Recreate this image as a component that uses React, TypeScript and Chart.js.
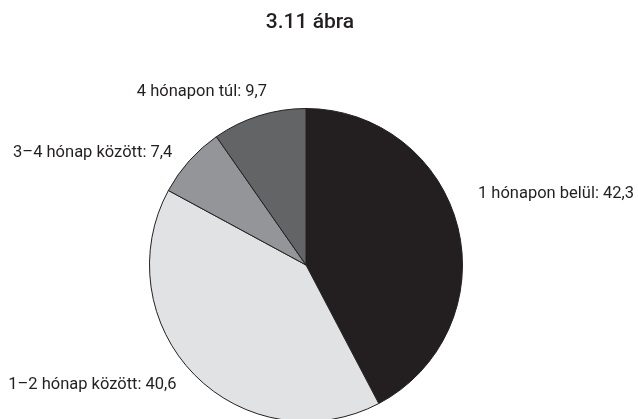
import React, { useEffect, useRef } from "react";
import { Chart, registerables } from "chart.js";

Chart.register(...registerables);

const titleText = "3.11 ábra";
const categories = ["1 hónapon belül", "1–2 hónap között", "3–4 hónap között", "4 hónapon túl"];
const shares = [42.3, 40.6, 7.4, 9.7];
const shareLabels = ["42,3", "40,6", "7,4", "9,7"];
const sliceColors = ["#231f20", "#e1e2e3", "#939598", "#636466"];

// label placement relative to each slice's mid-angle point on the rim
const labelOffsets = [
  { dx: 20, dy: -30, align: "left" },
  { dx: -18, dy: 14, align: "right" },
  { dx: -17, dy: -4, align: "right" },
  { dx: 8, dy: -20, align: "right" },
];

const labelPlugin = {
  id: "sliceLabels",
  afterDraw(chart: any) {
    const ctx = chart.ctx;
    ctx.save();
    ctx.fillStyle = "#231f20";
    ctx.font = "500 21px Roboto";
    ctx.textAlign = "center";
    ctx.textBaseline = "alphabetic";
    ctx.fillText(titleText, 310, 28);

    ctx.font = "16.5px Roboto";
    const meta = chart.getDatasetMeta(0);
    meta.data.forEach((arc: any, i: number) => {
      const p = arc.getProps(["x", "y", "startAngle", "endAngle", "outerRadius"], true);
      const mid = (p.startAngle + p.endAngle) / 2;
      const px = p.x + Math.cos(mid) * p.outerRadius;
      const py = p.y + Math.sin(mid) * p.outerRadius;
      const o = labelOffsets[i];
      ctx.textAlign = o.align;
      ctx.fillText(categories[i] + ": " + shareLabels[i], px + o.dx, py + o.dy);
    });
    ctx.restore();
  },
};

export default function App() {
  const ref = useRef<HTMLCanvasElement>(null);
  useEffect(() => {
    const chart = new Chart(ref.current!, {
      type: "pie",
      data: {
        labels: categories,
        datasets: [
          {
            data: shares,
            backgroundColor: sliceColors,
            borderColor: "#231f20",
            borderWidth: 1,
          },
        ],
      },
      options: {
        animation: false,
        responsive: false,
        devicePixelRatio: 1,
        layout: { padding: { left: 100, right: 126, top: 108, bottom: 18 } },
        plugins: {
          legend: { display: false },
          tooltip: { enabled: false },
          title: { display: false },
        },
      },
      plugins: [labelPlugin],
    });
    return () => chart.destroy();
  }, []);
  return (
    <div style={{ position: "absolute", left: 0, top: 0, width: 638, height: 419, overflow: "hidden", background: "#fff" }}>
      <canvas ref={ref} width={638} height={440} style={{ display: "block" }} />
    </div>
  );
}
